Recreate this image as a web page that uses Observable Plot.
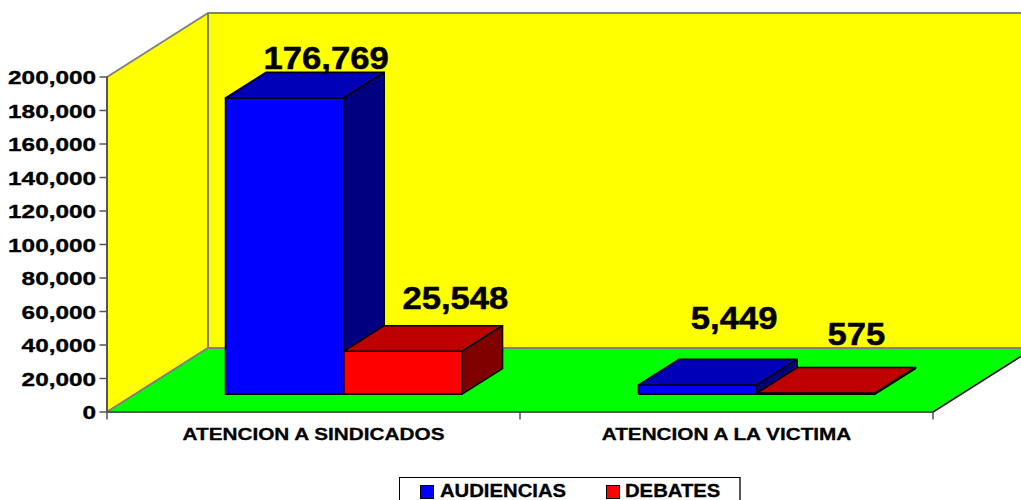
<!DOCTYPE html>
<html>
<head>
<meta charset="utf-8">
<script src="https://cdn.jsdelivr.net/npm/d3@7"></script>
<script src="https://cdn.jsdelivr.net/npm/@observablehq/plot@0.6"></script>
<style>
html,body{margin:0;padding:0;background:#fff;overflow:hidden;width:1021px;height:500px}
svg{display:block}
#legend{position:absolute;left:399px;top:477px;width:342px;height:30px;border:1px solid #000;border-right:2px solid #555;box-sizing:border-box;font:bold 18px "Liberation Sans",Arial,sans-serif;color:#000}
#legend span{position:absolute;top:3px;white-space:nowrap;transform:scaleX(1.125);transform-origin:left;-webkit-text-stroke:0.3px #000}
#legend i{position:absolute;top:7px;width:12px;height:12px;border:1px solid #000;display:block}
</style>
</head>
<body>
<div id="chart"></div>
<div id="legend"></div>
<script>
const categories = ["ATENCION A SINDICADOS", "ATENCION A LA VICTIMA"];
const seriesNames = ["AUDIENCIAS", "DEBATES"];
const audiencias = [176769, 5449];
const debates = [25548, 575];
const yTicks = [0, 20000, 40000, 60000, 80000, 100000, 120000, 140000, 160000, 180000, 200000];

const font = '"Liberation Sans", Arial, sans-serif';
const depthX = 0.2446, depthY = 38209;           // depth axis, in data units
const P = (x, y, d) => ({x: x + d * depthX, y: y + d * depthY});
const poly = pts => [...pts, pts[0]];
const face = (pts, fill, stroke = "#000", strokeWidth = 1.6) =>
  Plot.line(poly(pts), {x: "x", y: "y", fill, stroke, strokeWidth});

const barWidth = 0.2864, inset = 0.2185, front = 0.28, back = 0.68;
function bar(cat, s, v, cols) {
  const x0 = cat + inset + s * barWidth, x1 = x0 + barWidth;
  return [
    face([P(x0, 0, front), P(x1, 0, front), P(x1, v, front), P(x0, v, front)], cols[0]),
    face([P(x0, v, front), P(x1, v, front), P(x1, v, back), P(x0, v, back)], cols[1]),
    face([P(x1, 0, front), P(x1, 0, back), P(x1, v, back), P(x1, v, front)], cols[2])
  ];
}
const blue = ["#0000ff", "#0000b8", "#000080"];
const red = ["#ff0000", "#bd0000", "#800000"];
const ymax = yTicks[yTicks.length - 1];

function label(cat, s, v, dx, dy) {
  const x = cat + inset + (s + 0.5) * barWidth;
  const p = P(x, v, back);
  return Plot.text([p], {x: "x", y: "y", text: () => d3.format(",")(v), dx, dy,
    fontSize: 31, fontWeight: "bold", fontFamily: font, fill: "#000", stroke: "#000", strokeWidth: 0.5, className: "dl"});
}

const chart = Plot.plot({
  width: 1021, height: 477,
  marginLeft: 106.5, marginRight: 88.5, marginTop: 76.5, marginBottom: 65.5,
  x: {type: "linear", domain: [0, 2], axis: null},
  y: {type: "linear", domain: [0, ymax], axis: null},
  style: {background: "#fff", fontFamily: font},
  marks: [
    face([P(0, 0, 1), P(2, 0, 1), P(2, ymax, 1), P(0, ymax, 1)], "#ffff00", "#808080", 2),
    face([P(0, 0, 0), P(0, 0, 1), P(0, ymax, 1), P(0, ymax, 0)], "#ffff00", "#808080", 2),
    face([P(0, 0, 0), P(2, 0, 0), P(2, 0, 1), P(0, 0, 1)], "#00ff00", "#808080", 2),
    Plot.line([P(2, 0, 0), P(2, 0, 1)], {x: "x", y: "y", stroke: "#000", strokeWidth: 1.3}),
    Plot.ruleX([0], {y1: 0, y2: ymax, stroke: "#555", strokeWidth: 2}),
    Plot.ruleY([0], {x1: 0, x2: 2, stroke: "#555", strokeWidth: 2}),
    Plot.ruleY(yTicks, {x1: 0, x2: -0.017, stroke: "#555", strokeWidth: 1.5}),
    Plot.axisY({ticks: yTicks, tickFormat: d3.format(","), tickSize: 0, tickPadding: 11, dy: 1,
      fontSize: 19, fontWeight: "bold", fontFamily: font, fill: "#000", className: "yt", label: null}),
    Plot.ruleX([0, 1, 2], {y1: 0, y2: -4776, stroke: "#555", strokeWidth: 1.5}),
    Plot.text(categories, {x: (d, i) => i + 0.5, y: 0, text: d => d, dy: 23, dx: 0,
      fontSize: 17, fontWeight: "bold", fontFamily: font, fill: "#000", stroke: "#000", strokeWidth: 0.3, className: "ct"}),
    ...bar(0, 0, audiencias[0], blue),
    ...bar(0, 1, debates[0], red),
    ...bar(1, 0, audiencias[1], blue),
    ...bar(1, 1, debates[1], red),
    label(0, 0, audiencias[0], 1, -13),
    label(0, 1, debates[0], 12, -27),
    label(1, 0, audiencias[1], -4, -40),
    label(1, 1, debates[1], 0, -32)
  ]
});
document.getElementById("chart").appendChild(chart);

// The reference's type is stretched horizontally
function stretch(sel, k) {
  d3.select(chart).selectAll(sel).each(function () {
    this.setAttribute("textLength", this.getComputedTextLength() * k);
    this.setAttribute("lengthAdjust", "spacingAndGlyphs");
  });
}
stretch(".yt text", 1.28);
stretch(".dl text", 1.116);
stretch(".ct text", 1.22);
d3.select(chart).selectAll(".yt text").attr("stroke", "#000").attr("stroke-width", 0.35);

const legend = d3.select("#legend");
[[0, blue[0], 20, 40], [1, red[0], 206, 225]].forEach(([i, c, sx, tx]) => {
  legend.append("i").style("left", sx + "px").style("background", c);
  legend.append("span").style("left", tx + "px").text(seriesNames[i]);
});
</script>
</body>
</html>
